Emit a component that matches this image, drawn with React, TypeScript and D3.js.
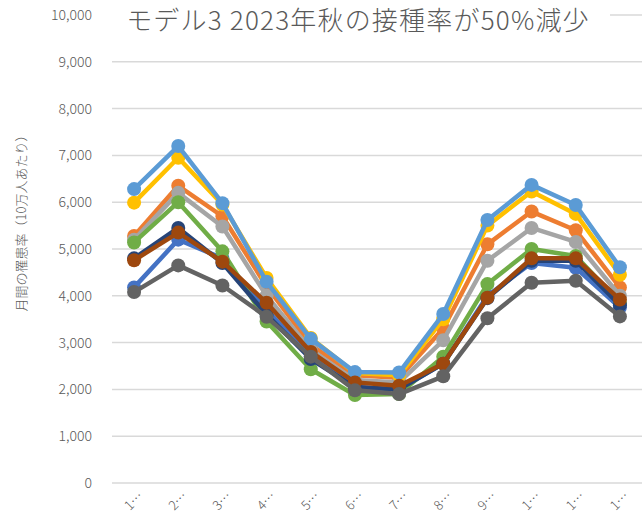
import * as d3 from "d3";

const W = 642;
const H = 514;
const months = ["1月", "2月", "3月", "4月", "5月", "6月", "7月", "8月", "9月", "10月", "11月", "12月"];
const yTicks = [0, 1000, 2000, 3000, 4000, 5000, 6000, 7000, 8000, 9000, 10000];

// series in Excel draw order
const blue = [4180, 5200, 4800, 3700, 2700, 2050, 2000, 2550, 4000, 4700, 4600, 3750];
const orange = [5280, 6350, 5700, 4200, 2950, 2300, 2250, 3300, 5100, 5800, 5400, 4180];
const gray = [5200, 6200, 5480, 4000, 2850, 2200, 2150, 3050, 4750, 5450, 5150, 4000];
const yellow = [5990, 6950, 5950, 4380, 3100, 2350, 2300, 3500, 5500, 6230, 5750, 4450];
const lightBlue = [6280, 7200, 5980, 4300, 3080, 2370, 2360, 3610, 5620, 6370, 5940, 4610];
const green = [5140, 6000, 4950, 3450, 2430, 1880, 1900, 2700, 4250, 5000, 4850, 3850];
const darkBlue = [4800, 5450, 4700, 3600, 2650, 2050, 2000, 2550, 3950, 4750, 4750, 3800];
const brown = [4760, 5350, 4730, 3850, 2800, 2150, 2080, 2550, 3960, 4800, 4800, 3920];
const darkGray = [4080, 4650, 4220, 3550, 2700, 1980, 1900, 2280, 3520, 4280, 4320, 3560];

const series = [
  { name: "s1", color: "#4472C4", values: blue },
  { name: "s2", color: "#ED7D31", values: orange },
  { name: "s3", color: "#A5A5A5", values: gray },
  { name: "s4", color: "#FFC000", values: yellow },
  { name: "s5", color: "#5B9BD5", values: lightBlue },
  { name: "s6", color: "#70AD47", values: green },
  { name: "s7", color: "#264478", values: darkBlue },
  { name: "s8", color: "#9E480E", values: brown },
  { name: "s9", color: "#636363", values: darkGray },
];

const left = 112;
const right = 642;
const top = 15;
const bottom = 483;

const x = d3.scaleBand().domain(months).range([left, right]);
const y = d3.scaleLinear().domain([0, 10000]).range([bottom, top]);
const fmt = d3.format(",");
const font = "'Noto Sans CJK JP', 'Noto Sans', sans-serif";

function App() {
  const line = d3
    .line<number>()
    .x((_, i) => x(months[i])! + x.bandwidth() / 2)
    .y((d) => y(d));

  return (
    <svg
      width={W}
      height={H}
      style={{ position: "absolute", left: 0, top: 0, background: "#fff" }}
      fontFamily={font}
      fontWeight={300}
    >
      {yTicks.map((t) => (
        <g key={t}>
          <line x1={left} x2={right} y1={y(t)} y2={y(t)} stroke="#d9d9d9" strokeWidth={1.5} />
          <text x={92} y={y(t) + 5} textAnchor="end" fontSize={14} fill="#595959">
            {fmt(t)}
          </text>
        </g>
      ))}
      <text
        transform={`translate(26,${220}) rotate(-90)`}
        textAnchor="middle"
        fontSize={13}
        fill="#595959"
      >
        月間の罹患率（10万人あたり）
      </text>
      {months.map((m) => {
        const cx = x(m)! + x.bandwidth() / 2;
        return (
          <text
            key={m}
            transform={`translate(${cx + 10},${497}) rotate(-45)`}
            textAnchor="end"
            fontSize={13}
            fill="#595959"
          >
            {m.slice(0, 1) + "…"}
          </text>
        );
      })}
      {series.map((s) => (
        <g key={s.name}>
          <path d={line(s.values)!} fill="none" stroke={s.color} strokeWidth={4.5} strokeLinejoin="round" />
          {s.values.map((v, i) => (
            <circle
              key={i}
              cx={x(months[i])! + x.bandwidth() / 2}
              cy={y(v)}
              r={7}
              fill={s.color}
            />
          ))}
        </g>
      ))}
      <rect x={104} y={0} width={506} height={34} fill="#fff" />
      <text x={358} y={30} textAnchor="middle" fontSize={26} letterSpacing={1.2} fill="#595959">
        モデル3 2023年秋の接種率が50%減少
      </text>
    </svg>
  );
}

export default App;
